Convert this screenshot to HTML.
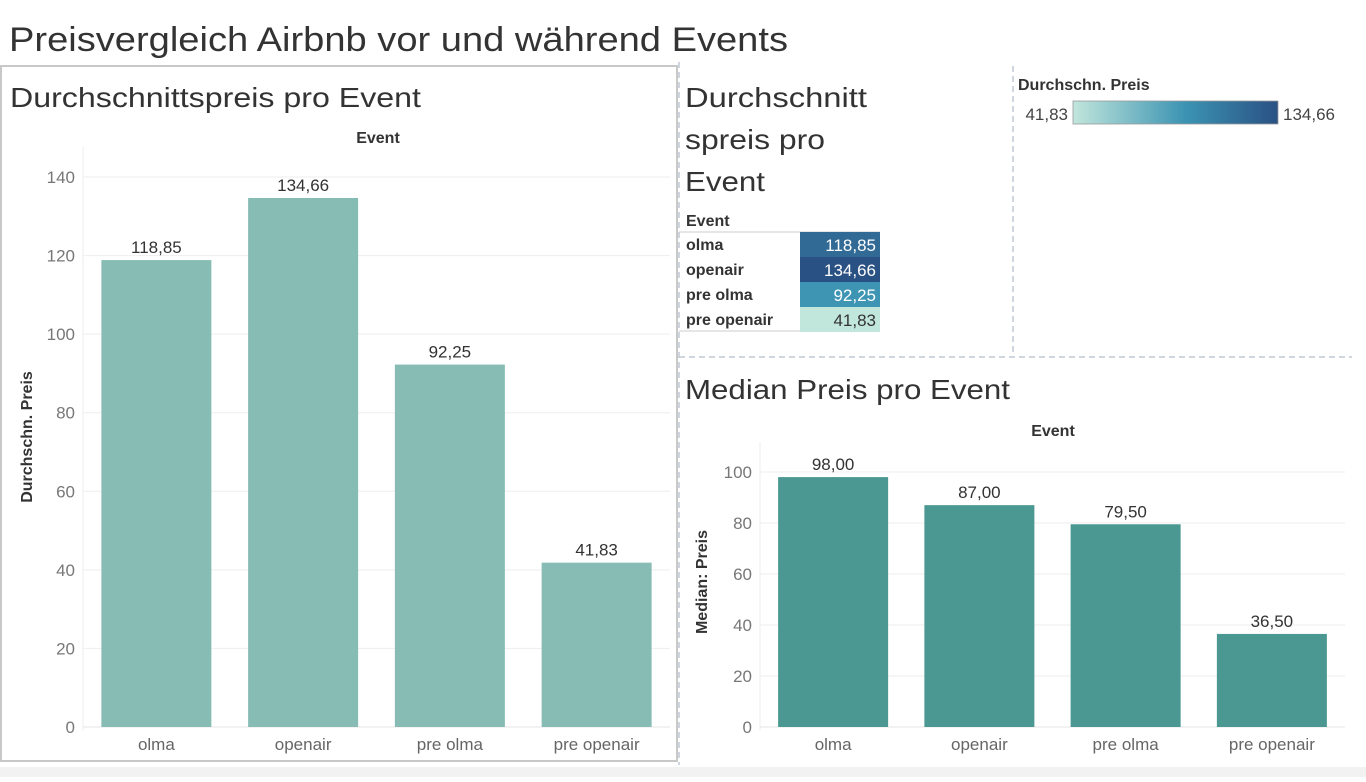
<!DOCTYPE html>
<html><head><meta charset="utf-8">
<style>
html,body{margin:0;padding:0;background:#fff;}
body{width:1366px;height:777px;overflow:hidden;position:relative;font-family:"Liberation Sans",sans-serif;}
svg text{font-family:"Liberation Sans",sans-serif;}
</style></head>
<body>
<svg id="s" width="1366" height="777" xmlns="http://www.w3.org/2000/svg">
<defs>
<linearGradient id="lg" x1="0" x2="1" y1="0" y2="0">
<stop offset="0" stop-color="#c1e6dc"/><stop offset="0.55" stop-color="#3b93b2"/><stop offset="1" stop-color="#2a5183"/>
</linearGradient>
</defs>
<rect x="0" y="767" width="1366" height="10" fill="#f2f2f2"/>
<text x="9" y="51" font-size="34" fill="#333" textLength="779" lengthAdjust="spacingAndGlyphs">Preisvergleich Airbnb vor und während Events</text>
<rect x="1" y="66" width="676" height="695" fill="none" stroke="#c8c8c8" stroke-width="2"/>
<text x="10" y="107" font-size="28" fill="#333" textLength="411" lengthAdjust="spacingAndGlyphs">Durchschnittspreis pro Event</text>
<text x="378" y="143" font-size="16" font-weight="bold" fill="#333" text-anchor="middle">Event</text>
<text transform="translate(32,437) rotate(-90)" font-size="16" font-weight="bold" fill="#333" text-anchor="middle">Durchschn. Preis</text>
<g id="g1"></g>
<line x1="679" y1="62" x2="679" y2="765" stroke="#c0c8d4" stroke-width="1.5" stroke-dasharray="6,4"/>
<line x1="1013" y1="66" x2="1013" y2="356" stroke="#c0c8d4" stroke-width="1.5" stroke-dasharray="6,4"/>
<line x1="679" y1="357" x2="1352" y2="357" stroke="#c0c8d4" stroke-width="1.5" stroke-dasharray="6,4"/>
<text x="685" y="107" font-size="28" fill="#333" textLength="182" lengthAdjust="spacingAndGlyphs">Durchschnitt</text>
<text x="685" y="149" font-size="28" fill="#333" textLength="140" lengthAdjust="spacingAndGlyphs">spreis pro</text>
<text x="685" y="191" font-size="28" fill="#333" textLength="80" lengthAdjust="spacingAndGlyphs">Event</text>
<text x="686" y="226" font-size="16" font-weight="bold" fill="#333">Event</text>
<line x1="679" y1="232" x2="880" y2="232" stroke="#ccc"/>
<line x1="679" y1="331" x2="880" y2="331" stroke="#ccc"/>
<g id="gt"></g>
<text x="1018" y="90" font-size="16" font-weight="bold" fill="#333">Durchschn. Preis</text>
<text x="1068" y="120" font-size="17" fill="#444" text-anchor="end">41,83</text>
<rect x="1073" y="101" width="205" height="23" fill="url(#lg)" stroke="#999" stroke-width="0.8"/>
<text x="1283" y="120" font-size="17" fill="#444">134,66</text>
<text x="685" y="399" font-size="28" fill="#333" textLength="325" lengthAdjust="spacingAndGlyphs">Median Preis pro Event</text>
<text x="1053" y="436" font-size="16" font-weight="bold" fill="#333" text-anchor="middle">Event</text>
<text transform="translate(707,582) rotate(-90)" font-size="16" font-weight="bold" fill="#333" text-anchor="middle">Median: Preis</text>
<g id="g2"></g>
</svg>
<script>
const categories = ["olma","openair","pre olma","pre openair"];
const avgValues = [118.85,134.66,92.25,41.83];
const medianValues = [98.00,87.00,79.50,36.50];
const avgTicks = [0,20,40,60,80,100,120,140];
const medianTicks = [0,20,40,60,80,100];
const NS="http://www.w3.org/2000/svg";
function fmt(v){return v.toFixed(2).replace('.',',');}
function mk(tag,attrs,parent,txt){const e=document.createElementNS(NS,tag);for(const k in attrs)e.setAttribute(k,attrs[k]);if(txt!==undefined)e.textContent=txt;parent.appendChild(e);return e;}
function chart(g,vals,ticks,x0,x1,y0,top,yMax,color,prefix){
  const yS=v=>y0-(v/yMax)*(y0-top);
  const step=(x1-x0)/categories.length, bw=110;
  const xS=i=>x0+step*i+(step-bw)/2;
  const ax=mk('line',{x1:x0,y1:top-30,x2:x0,y2:y0+4,stroke:'#eee'},g);
  
  
  ticks.forEach(t=>{
    const gl=mk('line',{x1:x0,x2:x1,y1:yS(t),y2:yS(t),stroke:'#eeeeee'},g);
    
    
    const tl=mk('text',{x:x0-8,y:yS(t)+6,'font-size':17,fill:'#777','text-anchor':'end'},g,String(t));
    
    
  });
  const bl=mk('line',{x1:x0,x2:x1,y1:y0,y2:y0,stroke:'#e6e6e6'},g);
  
  
  vals.forEach((v,i)=>{
    const r=mk('rect',{x:xS(i),y:yS(v),width:bw,height:y0-yS(v),fill:color},g);
    
    
    const l=mk('text',{x:xS(i)+bw/2,y:yS(v)-7,'font-size':17,fill:'#333','text-anchor':'middle'},g,fmt(v));
    
    
    const c=mk('text',{x:xS(i)+bw/2,y:y0+23,'font-size':17,fill:'#666','text-anchor':'middle'},g,categories[i]);
    
    
  });
}
chart(document.getElementById('g1'),avgValues,avgTicks,83,670,727,177,140,'#86bcb4','avg');
chart(document.getElementById('g2'),medianValues,medianTicks,760,1345,727,472,100,'#4a9891','median');
const mn=Math.min(...avgValues), mx=Math.max(...avgValues);
function lerp(a,b,t){return a.map((v,i)=>Math.round(v+(b[i]-v)*t));}
function col(v){const t=(v-mn)/(mx-mn);const c0=[193,230,220],c1=[59,147,178],c2=[42,81,131];
  const c=t<0.55?lerp(c0,c1,t/0.55):lerp(c1,c2,(t-0.55)/0.45);return 'rgb('+c.join(',')+')';}
const gt=document.getElementById('gt');
avgValues.forEach((v,i)=>{
  const y=232+i*25;
  const r=mk('rect',{x:800,y:y,width:80,height:25,fill:col(v)},gt);
  
  
  const n=mk('text',{x:686,y:y+18,'font-size':16,'font-weight':'bold',fill:'#333'},gt,categories[i]);
  
  
  const t=mk('text',{x:876,y:y+19,'font-size':17,fill:(v-mn)/(mx-mn)>0.3?'#fff':'#333','text-anchor':'end'},gt,fmt(v));
  
  
});
</script>
</body></html>
